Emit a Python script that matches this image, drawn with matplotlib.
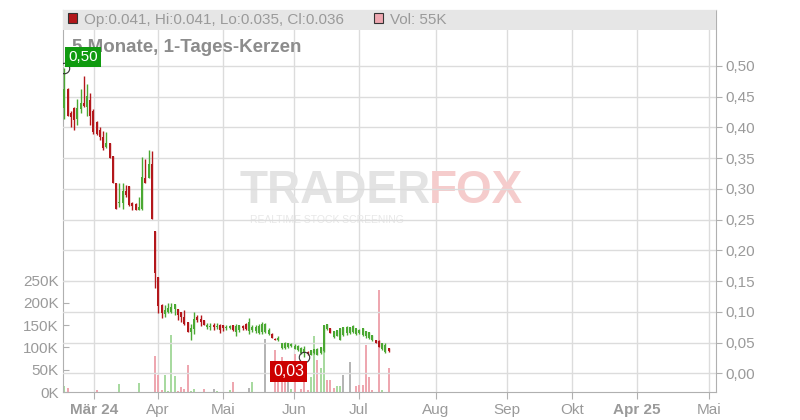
import numpy as np
import matplotlib.pyplot as plt
from matplotlib.patches import Rectangle

# ==========================================
# Data
# ==========================================

opens = [0.432, 0.463, 0.423, 0.431, 0.413, 0.430, 0.440, 0.434, 0.445, 0.426,
         0.409, 0.396, 0.385, 0.368, 0.374, 0.354, 0.310, 0.277, 0.277, 0.296,
         0.304, 0.277, 0.276, 0.265, 0.267, 0.318, 0.318, 0.341, 0.232, 0.157,
         0.111, 0.096, 0.100, 0.100, 0.105, 0.104, 0.099, 0.092, 0.084, 0.068,
         0.072, 0.091, 0.088, 0.086, 0.075, 0.075, 0.078, 0.075, 0.079, 0.078,
         0.073, 0.074, 0.078, 0.068, 0.070, 0.077, 0.080, 0.069, 0.070, 0.069,
         0.066, 0.068, 0.067, 0.064, 0.064, 0.056, 0.054, 0.041, 0.041, 0.042,
         0.044, 0.040, 0.038, 0.033, 0.033, 0.035, 0.030, 0.033, 0.030, 0.033,
         0.036, 0.072, 0.073, 0.059, 0.061, 0.055, 0.063, 0.065, 0.066, 0.067,
         0.064, 0.065, 0.062, 0.060, 0.057, 0.054, 0.054, 0.053, 0.039, 0.034,
         0.041]
highs = [0.496, 0.465, 0.426, 0.434, 0.446, 0.462, 0.483, 0.471, 0.456, 0.430,
         0.410, 0.401, 0.395, 0.393, 0.375, 0.354, 0.310, 0.309, 0.309, 0.306,
         0.305, 0.278, 0.277, 0.287, 0.352, 0.349, 0.363, 0.362, 0.232, 0.157,
         0.112, 0.111, 0.114, 0.114, 0.113, 0.104, 0.099, 0.103, 0.084, 0.081,
         0.100, 0.095, 0.095, 0.087, 0.082, 0.082, 0.082, 0.082, 0.081, 0.079,
         0.078, 0.079, 0.079, 0.080, 0.079, 0.078, 0.082, 0.090, 0.078, 0.079,
         0.080, 0.083, 0.082, 0.073, 0.065, 0.057, 0.061, 0.050, 0.051, 0.050,
         0.049, 0.048, 0.046, 0.042, 0.044, 0.036, 0.038, 0.039, 0.041, 0.043,
         0.078, 0.081, 0.074, 0.069, 0.070, 0.074, 0.076, 0.077, 0.076, 0.078,
         0.072, 0.072, 0.073, 0.069, 0.068, 0.062, 0.055, 0.054, 0.049, 0.049,
         0.041]
lows = [0.414, 0.418, 0.401, 0.396, 0.404, 0.423, 0.434, 0.419, 0.404, 0.390,
        0.387, 0.380, 0.364, 0.366, 0.350, 0.309, 0.267, 0.271, 0.268, 0.287,
        0.273, 0.265, 0.265, 0.265, 0.266, 0.309, 0.318, 0.251, 0.138, 0.098,
        0.090, 0.092, 0.098, 0.098, 0.095, 0.087, 0.084, 0.079, 0.068, 0.054,
        0.064, 0.084, 0.077, 0.078, 0.072, 0.071, 0.071, 0.072, 0.066, 0.069,
        0.070, 0.072, 0.069, 0.060, 0.068, 0.070, 0.070, 0.064, 0.068, 0.066,
        0.064, 0.064, 0.065, 0.063, 0.057, 0.054, 0.053, 0.040, 0.040, 0.041,
        0.043, 0.039, 0.037, 0.032, 0.027, 0.030, 0.029, 0.032, 0.029, 0.032,
        0.034, 0.070, 0.066, 0.058, 0.060, 0.055, 0.061, 0.063, 0.064, 0.065,
        0.062, 0.064, 0.060, 0.058, 0.056, 0.053, 0.049, 0.043, 0.038, 0.033,
        0.035]
closes = [0.462, 0.418, 0.417, 0.412, 0.431, 0.440, 0.435, 0.451, 0.419, 0.393,
          0.389, 0.385, 0.366, 0.374, 0.351, 0.309, 0.267, 0.279, 0.297, 0.290,
          0.274, 0.273, 0.266, 0.270, 0.319, 0.310, 0.341, 0.251, 0.164, 0.110,
          0.098, 0.103, 0.106, 0.108, 0.113, 0.095, 0.091, 0.081, 0.068, 0.073,
          0.088, 0.087, 0.084, 0.079, 0.078, 0.077, 0.075, 0.077, 0.070, 0.073,
          0.076, 0.077, 0.071, 0.077, 0.078, 0.073, 0.072, 0.084, 0.076, 0.076,
          0.077, 0.080, 0.080, 0.071, 0.057, 0.055, 0.058, 0.049, 0.050, 0.050,
          0.048, 0.045, 0.044, 0.041, 0.039, 0.031, 0.038, 0.039, 0.040, 0.043,
          0.078, 0.080, 0.066, 0.069, 0.070, 0.073, 0.076, 0.076, 0.075, 0.077,
          0.073, 0.071, 0.073, 0.069, 0.067, 0.062, 0.049, 0.043, 0.049, 0.046,
          0.036]

# volume only on days that have a bar (in thousands)
vol_day = [0, 1, 10, 17, 23, 28, 29, 30, 31, 32, 33, 34, 35, 36, 37, 38, 39, 40,
           43, 46, 47, 51, 52, 57, 58, 62, 65, 66, 67, 68, 69, 70, 71, 73, 74, 75,
           76, 77, 78, 79, 80, 81, 82, 83, 84, 85, 86, 88, 90, 91, 92, 93, 94, 95,
           97, 98, 100]
vol_k = [13, 9, 4, 18, 20, 81, 38, 4, 38, 2, 128, 36, 2, 11, 7, 60, 2, 7,
         7, 7, 2, 4, 23, 9, 23, 120, 95, 34, 78, 34, 27, 7, 85, 7, 34, 4,
         33, 125, 72, 54, 118, 27, 27, 9, 13, 14, 38, 67, 13, 15, 15, 105, 34, 4,
         230, 4, 55]
vol_dir = ["u", "d", "d", "u", "u", "d", "d", "d", "u", "u", "u", "u", "d", "d", "d", "d", "u", "u",
           "d", "n", "u", "u", "d", "n", "u", "n", "d", "d", "d", "d", "n", "u", "d", "d", "d", "d",
           "u", "u", "d", "u", "u", "d", "d", "d", "u", "u", "n", "n", "d", "d", "d", "d", "d", "d",
           "d", "u", "d"]

month_labels = ["Mär 24", "Apr", "Mai", "Jun", "Jul", "Aug", "Sep", "Okt", "Apr 25", "Mai"]
month_pos = [9.25, 28.9, 48.9, 70.8, 90.8, 114.6, 136.5, 156.5, 176.5, 198.7]

price_ticks = [0.00, 0.05, 0.10, 0.15, 0.20, 0.25, 0.30, 0.35, 0.40, 0.45, 0.50]
vol_ticks = [0, 50, 100, 150, 200, 250]

title = "5 Monate, 1-Tages-Kerzen"

# ==========================================
# Style
# ==========================================

RED = "#b3171b"
GREEN = "#4aa832"
VOL_COL = {"u": "#a8daa0", "d": "#eea7b0", "n": "#b5b5b5"}
GRID = "#dcdcdc"
TXT = "#9a9a9a"
AXC = "#b0b0b0"

plt.rcParams["font.family"] = ["Liberation Sans", "DejaVu Sans"]

W, H = 800, 420
fig = plt.figure(figsize=(8, 4.2), dpi=100)
ax_v = fig.add_axes([63 / W, 28 / H, 653 / W, 382 / H])
ax_p = ax_v.twinx()

x = np.arange(len(opens))
o = np.array(opens)
c = np.array(closes)
hi = np.array(highs)
lo = np.array(lows)

# ==========================================
# Volume (left axis)
# ==========================================

ax_v.bar(vol_day, vol_k, width=0.62, color=[VOL_COL[d] for d in vol_dir], zorder=2)
ax_v.set_ylim(0, 858)
ax_v.set_yticks(vol_ticks)
ax_v.set_yticklabels([f"{v}K" for v in vol_ticks])
ax_v.tick_params(axis="y", direction="in", length=4, color=AXC, labelcolor=TXT,
                 labelsize=11, pad=3)

ax_v.set_xlim(-0.4, 200.9)
ax_v.set_xticks(month_pos)
ax_v.set_xticklabels(month_labels)
for lab in ax_v.get_xticklabels():
    if " " in lab.get_text():
        lab.set_fontweight("bold")
ax_v.tick_params(axis="x", direction="out", length=5, color=AXC, labelcolor=TXT,
                 labelsize=11, pad=3)
ax_v.grid(axis="x", color=GRID, linewidth=1, zorder=0)
ax_v.set_axisbelow(True)

for side in ["top", "right"]:
    ax_v.spines[side].set_visible(False)
for side in ["left", "bottom"]:
    ax_v.spines[side].set_color(AXC)

# ==========================================
# Candles (right axis)
# ==========================================

up = c >= o
cols = np.where(up, GREEN, RED)
ax_p.vlines(x, lo, hi, colors=cols, linewidth=1, zorder=3)
body = np.maximum(np.abs(c - o), 0.0015)
ax_p.bar(x, body, bottom=np.minimum(o, c), width=0.62, color=cols, zorder=3)

ax_p.set_ylim(-0.0304, 0.5911)
ax_p.set_yticks(price_ticks)
ax_p.set_yticklabels([f"{t:.2f}".replace(".", ",") for t in price_ticks])
ax_p.tick_params(axis="y", direction="out", length=4, color=AXC, labelcolor=TXT,
                 labelsize=11, pad=3)
ax_p.grid(axis="y", color=GRID, linewidth=1, zorder=0)
ax_p.set_axisbelow(True)
for side in ["left", "bottom"]:
    ax_p.spines[side].set_visible(False)
ax_p.spines["right"].set_color(AXC)
ax_p.spines["top"].set_color("#c8c8c8")

# high / low markers
i_hi = int(np.argmax(hi))
i_lo = int(np.argmin(lo))
ax_p.plot(i_hi, hi[i_hi], "o", ms=7.5, mfc="none", mec="#333333", mew=0.8, zorder=6)
ax_p.plot(i_lo, lo[i_lo], "o", ms=7.5, mfc="none", mec="#333333", mew=0.8, zorder=6)
ax_p.annotate(f"{hi[i_hi]:.2f}".replace(".", ","), xy=(i_hi, hi[i_hi]),
              xytext=(13.7, 8.5), textcoords="offset points", ha="center", va="center",
              color="white", fontsize=11, zorder=7,
              bbox=dict(boxstyle="square,pad=0.2", fc="#0f9a0f", ec="none"))
ax_p.annotate(f"{lo[i_lo]:.2f}".replace(".", ","), xy=(i_lo, lo[i_lo]),
              xytext=(-11.5, -10.4), textcoords="offset points", ha="center", va="center",
              color="white", fontsize=11.5, zorder=7,
              bbox=dict(boxstyle="square,pad=0.18", fc="#cc0000", ec="none"))

# ==========================================
# Watermark, title and header band
# ==========================================

ax_v.text(240 / W, 1 - 191 / H, "TRADER", transform=fig.transFigure, fontsize=33,
          fontweight="bold", color="#e3e3e3", va="center", ha="left", zorder=1)
ax_v.text(429 / W, 1 - 191 / H, "FOX", transform=fig.transFigure, fontsize=33,
          fontweight="bold", color="#f5cccc", va="center", ha="left", zorder=1)
ax_v.text(250 / W, 1 - 220 / H, "REALTIME STOCK SCREENING", transform=fig.transFigure,
          fontsize=7.5, color="#e8e8e8", va="center", ha="left", zorder=1)

ax_p.text(72 / W, 1 - 48 / H, title, transform=fig.transFigure, fontsize=13.5,
          fontweight="bold", color="#8c8c8c", va="center", ha="left", zorder=5)

ax_p.add_patch(Rectangle((0, 1 - 20 / 382), 1, 20 / 382, transform=ax_p.transAxes,
                         fc="#e6e6e6", ec="none", zorder=8, clip_on=False))

last = len(opens) - 1
fig.patches.append(Rectangle((68 / W, 1 - 22.5 / H), 9 / W, 9 / H, transform=fig.transFigure,
                             fc=RED, ec="#333333", lw=0.8, zorder=9))
fig.text(84 / W, 1 - 20 / H,
         f"Op:{opens[last]:.3f}, Hi:{highs[last]:.3f}, Lo:{lows[last]:.3f}, Cl:{closes[last]:.3f}",
         fontsize=11, color=TXT, va="center", ha="left", zorder=9)
fig.patches.append(Rectangle((374 / W, 1 - 22.5 / H), 9 / W, 9 / H, transform=fig.transFigure,
                             fc=VOL_COL["d"], ec="#333333", lw=0.8, zorder=9))
fig.text(390 / W, 1 - 20 / H, f"Vol: {vol_k[-1]}K", fontsize=11, color=TXT,
         va="center", ha="left", zorder=9)

plt.savefig("out.png", dpi=100)
